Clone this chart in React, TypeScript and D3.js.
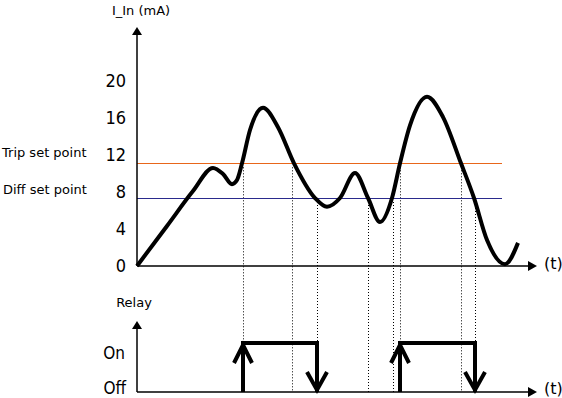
import React, { useEffect, useRef } from 'react';
import * as d3 from 'd3';

// current curve: t (arbitrary time units), mA
const curveT = [0, 3.0, 5.6, 7.6, 8.6, 9.5, 10.0, 10.5, 11.3, 12.6, 14.1, 15.7, 17.8, 19.0, 20.3, 21.8, 23.1, 24.3, 25.5, 26.3, 27.3, 29.0, 30.6, 32.4, 33.7, 35.0, 36.8, 38.1];
const curveMA = [0, 4.33, 8.1, 10.6, 9.95, 8.85, 9.3, 11.1, 14.7, 17.1, 15.0, 11.1, 7.35, 6.4, 7.35, 10.05, 7.35, 4.75, 7.35, 11.1, 15.2, 18.3, 16.1, 11.1, 7.35, 2.8, 0.2, 2.5];

const yTicks = [0, 4, 8, 12, 16, 20];
const tripLevel = 11.1;
const diffLevel = 7.35;
const setPointEnd = 36.5;

// crossings marked with dotted drop lines
const markT = [10.6, 15.5, 18.0, 23.1, 25.6, 26.3, 32.4, 33.8];
const markLevel = [tripLevel, tripLevel, diffLevel, diffLevel, diffLevel, tripLevel, tripLevel, diffLevel];

// relay on / off times
const relayOn = [10.6, 26.3];
const relayOff = [18.0, 33.8];

const App: React.FC = () => {
  const svgRef = useRef<SVGSVGElement>(null);

  useEffect(() => {
    const svg = d3.select(svgRef.current);
    svg.selectAll('*').remove();

    const x = d3.scaleLinear().domain([0, 40]).range([137, 537]);
    const y = d3.scaleLinear().domain([0, 20]).range([266, 81]);
    const ry = d3.scaleLinear().domain([0, 1]).range([392, 343]);

    const font = 'DejaVu Sans, Verdana, sans-serif';
    const narrow = 'Liberation Sans Narrow, DejaVu Sans Condensed, sans-serif';

    // dotted drop lines
    markT.forEach((t, i) => {
      svg.append('line')
        .attr('x1', Math.round(x(t)) + 0.5).attr('x2', Math.round(x(t)) + 0.5)
        .attr('y1', y(markLevel[i]) + 4).attr('y2', ry(0))
        .attr('stroke', '#000').attr('stroke-width', 1)
        .attr('stroke-dasharray', '1,2');
    });

    // set point lines
    svg.append('line')
      .attr('x1', x(0)).attr('x2', x(setPointEnd))
      .attr('y1', Math.round(y(tripLevel)) + 0.5).attr('y2', Math.round(y(tripLevel)) + 0.5)
      .attr('stroke', '#e8661a').attr('stroke-width', 1);
    svg.append('line')
      .attr('x1', x(0)).attr('x2', x(setPointEnd))
      .attr('y1', Math.round(y(diffLevel)) + 0.5).attr('y2', Math.round(y(diffLevel)) + 0.5)
      .attr('stroke', '#2a2a8c').attr('stroke-width', 1);

    // axes
    const axis = (x1: number, y1: number, x2: number, y2: number) => {
      svg.append('line').attr('x1', x1).attr('y1', y1).attr('x2', x2).attr('y2', y2)
        .attr('stroke', '#000').attr('stroke-width', 1.5);
    };
    axis(x(0), y(0), x(0), 32);
    svg.append('path').attr('d', `M${x(0)},27L${x(0) - 5},35L${x(0) + 5},35Z`).attr('fill', '#000');
    axis(x(0), y(0), x(40) - 6, y(0));
    svg.append('path').attr('d', `M${x(40)},${y(0)}L${x(40) - 9},${y(0) - 5}L${x(40) - 9},${y(0) + 5}Z`).attr('fill', '#000');

    axis(x(0), ry(0), x(0), 326);
    svg.append('path').attr('d', `M${x(0)},321L${x(0) - 5},329L${x(0) + 5},329Z`).attr('fill', '#000');
    axis(x(0), ry(0), x(40) - 6, ry(0));
    svg.append('path').attr('d', `M${x(40)},${ry(0)}L${x(40) - 9},${ry(0) - 5}L${x(40) - 9},${ry(0) + 5}Z`).attr('fill', '#000');

    // tick labels
    yTicks.forEach(v => {
      svg.append('text')
        .attr('x', 126).attr('y', y(v) - 1)
        .attr('text-anchor', 'end').attr('dominant-baseline', 'central')
        .attr('font-family', narrow).attr('font-size', 18)
        .text(String(v));
    });

    const label = (tx: number, ty: number, s: string, size = 13, anchor = 'start', fam = font) => {
      svg.append('text').attr('x', tx).attr('y', ty)
        .attr('text-anchor', anchor).attr('dominant-baseline', 'central')
        .attr('font-family', fam).attr('font-size', size).text(s);
    };
    label(141, 10, 'I_In (mA)', 13, 'middle');
    label(2, y(12) - 3, 'Trip set point');
    label(3, y(8) - 3, 'Diff set point');
    label(544, y(0) - 3, '(t)', 16);
    label(134, 302, 'Relay', 13, 'middle');
    label(125, ry(1) + 10, 'On', 17, 'end', narrow);
    label(126, ry(0) - 4, 'Off', 17, 'end', narrow);
    label(544, ry(0) - 4, '(t)', 16);

    // current curve
    const pts: [number, number][] = curveT.map((t, i) => [t, curveMA[i]]);
    const line = d3.line<[number, number]>()
      .x(d => x(d[0])).y(d => y(d[1]))
      .curve(d3.curveMonotoneX);
    svg.append('path').attr('d', line(pts) || '')
      .attr('fill', 'none').attr('stroke', '#000').attr('stroke-width', 4)
      .attr('stroke-linejoin', 'round');

    // relay pulses with arrows
    relayOn.forEach((on, i) => {
      const x0 = x(on);
      const x1 = x(relayOff[i]);
      const top = ry(1);
      const bot = ry(0);
      svg.append('path')
        .attr('d', `M${x0},${bot}L${x0},${top}L${x1},${top}L${x1},${bot}`)
        .attr('fill', 'none').attr('stroke', '#000').attr('stroke-width', 4)
        .attr('stroke-linejoin', 'miter');
      svg.append('path')
        .attr('d', `M${x0 - 9},${top + 20}L${x0},${top + 2}L${x0 + 9},${top + 20}`)
        .attr('fill', 'none').attr('stroke', '#000').attr('stroke-width', 4)
        .attr('stroke-linejoin', 'miter');
      svg.append('path')
        .attr('d', `M${x1 - 10},${bot - 20}L${x1},${bot - 2}L${x1 + 10},${bot - 20}`)
        .attr('fill', 'none').attr('stroke', '#000').attr('stroke-width', 4)
        .attr('stroke-linejoin', 'miter');
    });
  }, []);

  return (
    <svg ref={svgRef} width={562} height={398}
      style={{ position: 'absolute', left: 0, top: 0, background: '#fff' }} />
  );
};

export default App;
